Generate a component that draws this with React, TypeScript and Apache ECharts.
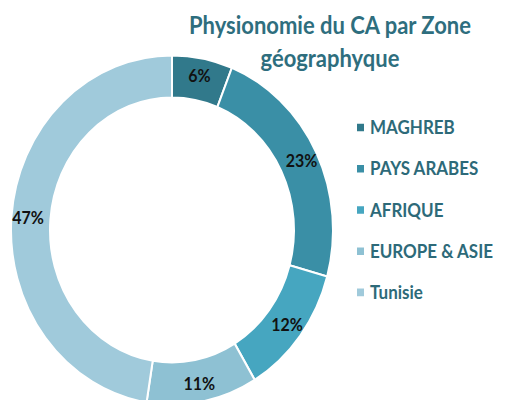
import React, { useEffect, useRef } from "react";
import * as echarts from "echarts";

const categories = ["MAGHREB", "PAYS ARABES", "AFRIQUE", "EUROPE & ASIE", "Tunisie"];
const values = [6, 23, 12, 11, 47];
const colors = ["#31798B", "#3A8FA6", "#46A6C0", "#8EC1D3", "#A0CADB"];
const titleText = "Physionomie du CA par Zone\ngéographyque";

const STRETCH = 1.085;

export default function App() {
  const ref = useRef<HTMLDivElement>(null);
  useEffect(() => {
    if (!ref.current) return;
    const chart = echarts.init(ref.current, null, { renderer: "svg" });
    chart.setOption({
      animation: false,
      title: {
        text: titleText,
        left: 325,
        top: 3,
        textAlign: "center",
        textStyle: {
          fontFamily: "Lato",
          fontWeight: "bold",
          fontSize: 22,
          lineHeight: 30,
          color: "#2E6E7E",
        },
      },
      legend: {
        orient: "vertical",
        left: 350,
        top: 104,
        icon: "rect",
        itemWidth: 9,
        itemHeight: 9,
        itemGap: 21,
        data: categories,
        textStyle: {
          fontFamily: "Lato",
          fontWeight: "bold",
          fontSize: 17,
          color: "#2D6A79",
        },
      },
      series: [
        {
          type: "pie",
          center: [172, 212],
          radius: [122, 161],
          startAngle: 90,
          clockwise: true,
          avoidLabelOverlap: false,
          itemStyle: { borderColor: "#ffffff", borderWidth: 2 },
          label: {
            show: true,
            position: "inside",
            formatter: "{c}%",
            fontFamily: "Lato",
            fontWeight: "bold",
            fontSize: 16,
            color: "#111111",
          },
          labelLine: { show: false },
          emphasis: { disabled: true },
          data: categories.map((name, i) => ({
            name,
            value: values[i],
            itemStyle: { color: colors[i] },
          })),
        },
      ],
    });
    return () => chart.dispose();
  }, []);
  return (
    <div style={{ position: "absolute", left: 0, top: 0, width: 507, height: 400, overflow: "hidden" }}>
      <div
        ref={ref}
        style={{
          width: 507,
          height: Math.round(400 / STRETCH),
          transform: `scaleY(${STRETCH})`,
          transformOrigin: "0 0",
        }}
      />
    </div>
  );
}
